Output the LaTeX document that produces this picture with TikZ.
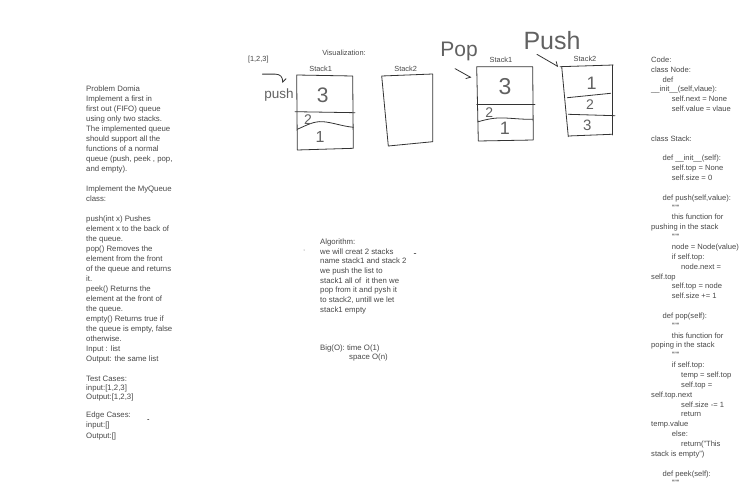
\documentclass[tikz,border=0pt]{standalone}
\usepackage{fontspec}
\setmainfont{Liberation Sans}
\usetikzlibrary{arrows.meta}
\newcommand\ind[1]{\hspace*{#1\dimexpr 9.3pt\relax}}
\begin{document}
\begin{tikzpicture}[x=1pt, y=-1pt, line join=round, line cap=round,
    txt/.style={anchor=north west, inner sep=0pt, align=left, text=black!72, font=\fontsize{7.8}{10}\selectfont},
    lbl/.style={inner sep=0pt, text=black!72, font=\fontsize{7.4}{9}\selectfont},
    hand/.style={inner sep=0pt, text=black!62},
    ink/.style={draw=black!80, line width=0.8pt},
    barb/.style={-{Straight Barb[#1,length=3.5pt,width=7pt]}}]
  \useasboundingbox (0,0) rectangle (748,487);
  % problem domain
  \node[txt] (problem) at (86,85.6) {Problem Domia\\Implement a first in\\first out (FIFO) queue\\using only two stacks.\\The implemented queue\\should support all the\\functions of a normal\\queue (push, peek , pop,\\and empty).\\[10pt]Implement the MyQueue\\class:\\[10pt]push(int x) Pushes\\element x to the back of\\the queue.\\pop() Removes the\\element from the front\\of the queue and returns\\it.\\peek() Returns the\\element at the front of\\the queue.\\empty() Returns true if\\the queue is empty, false\\otherwise.\\Input : list\\Output: the same list};
  \node[txt, font=\fontsize{7.8}{9.2}\selectfont] (tests) at (86,375.6) {Test Cases:\\input:[1,2,3]\\Output:[1,2,3]};
  \node[txt, font=\fontsize{7.8}{10.5}\selectfont] (edges) at (86,411.6) {Edge Cases:\\input:[]\\Output:[]};
  \draw[black!60, line width=0.4pt] (147.5,419.5) -- (149,419.5);
  % visualization
  \node[lbl] (vis) at (344,53) {Visualization:};
  \node[lbl] (list) at (258.3,60) {[1,2,3]};
  \node[lbl] (s1a) at (320.7,68.7) {Stack1};
  \node[lbl] (s2a) at (405.7,68.7) {Stack2};
  \draw[ink] (296.7,75) -- (352.7,76) -- (353.3,148.3) -- (297.3,150) -- cycle;
  \draw[ink] (295,111.7) -- (355,112.7);
  \draw[ink] (297.3,129.3) .. controls (307,125) and (314,121) .. (323,121.7) .. controls (333,122.5) and (341,126) .. (353.3,127.3);
  \node[hand, font=\fontsize{21}{21}\selectfont] (a3) at (322.7,95) {3};
  \node[hand, font=\fontsize{14}{14}\selectfont] (a2) at (308,119.3) {2};
  \node[hand, font=\fontsize{16}{16}\selectfont] (a1) at (320,137) {1};
  \draw[ink] (381.7,76) -- (432.7,74) -- (432.7,141.7) -- (388.3,146) -- cycle;
  \node[hand, font=\fontsize{13.5}{13.5}\selectfont] (push1) at (279,95) {push};
  \coordinate (pushin) at (282.7,83);
  \draw[ink, barb=left] ([shift={(4,10.5)}]list.south) -- ++(13,0) .. controls +(5,0) and +(0,-6) .. (pushin);
  % after pop and push
  \node[lbl] (s1b) at (501,60) {Stack1};
  \node[lbl] (s2b) at (585,59.3) {Stack2};
  \draw[ink] (476.7,66.7) -- (532.7,66.7) -- (533.3,140) -- (478.3,141) -- cycle;
  \draw[ink] (476.7,104) -- (535,104);
  \draw[ink] (478.3,121.7) .. controls (488,119) and (495,117.5) .. (505,118) .. controls (515,118.5) and (524,119.5) .. (532.7,119.3);
  \node[hand, font=\fontsize{23}{23}\selectfont] (b3) at (505,86.7) {3};
  \node[hand, font=\fontsize{14}{14}\selectfont] (b2) at (489.3,112.3) {2};
  \node[hand, font=\fontsize{18}{18}\selectfont] (b1) at (505,128.3) {1};
  \draw[ink] (560,66.7) -- (613.3,65);
  \draw[ink] (561.7,66.7) -- (568.3,136.7);
  \draw[ink] (612.3,65) -- (612.3,135);
  \draw[ink] (568.3,136) -- (611.7,134.3);
  \draw[ink] (567.3,97.7) -- (610.7,93.3);
  \draw[ink] (568.3,114.3) -- (615,115.7);
  \node[hand, font=\fontsize{18}{18}\selectfont] (c1) at (591.7,83.3) {1};
  \node[hand, font=\fontsize{14}{14}\selectfont] (c2) at (590,105) {2};
  \node[hand, font=\fontsize{15}{15}\selectfont] (c3) at (587.3,125) {3};
  \node[hand, font=\fontsize{21}{21}\selectfont] (pop) at (459,51) {Pop};
  \node[hand, font=\fontsize{25}{25}\selectfont] (push2) at (552,41) {Push};
  \coordinate (popin) at (471.3,77.7);
  \coordinate (pushto) at (558.3,66.7);
  \draw[ink, barb=right] ([shift={(-4,8)}]pop.south) -- (popin);
  \draw[ink, barb=left] ([shift={(-15,4)}]push2.south) -- (pushto);
  % algorithm
  \node[txt, font=\fontsize{7.8}{9.7}\selectfont] (algo) at (320,238.6) {Algorithm:\\we will creat 2 stacks\\name stack1 and stack 2\\we push the list to\\stack1 all of~ it then we\\pop from it and pysh it\\to stack2, untill we let\\stack1 empty};
  \fill[black!60] (304,250) circle (0.5);
  \draw[black!60, line width=0.4pt] (414,253) -- (416,253);
  \node[txt, font=\fontsize{7.8}{9.5}\selectfont] (bigo) at (320,344.6) {Big(O): time O(1)\\\hspace*{29pt}space O(n)};
  % code
  \node[txt, font=\fontsize{7.6}{9.85}\selectfont] (code) at (651,56.6) {Code:\\class Node:\\\ind1 def\\\_\_init\_\_(self,vlaue):\\\ind2 self.next = None\\\ind2 self.value = vlaue\\[19.7pt]class Stack:\\[9.85pt]\ind1 def \_\_init\_\_(self):\\\ind2 self.top = None\\\ind2 self.size = 0\\[9.85pt]\ind1 def push(self,value):\\\ind2 """\\\ind2 this function for\\pushing in the stack\\\ind2 """\\\ind2 node = Node(value)\\\ind2 if self.top:\\\ind3 node.next =\\self.top\\\ind2 self.top = node\\\ind2 self.size += 1\\[9.85pt]\ind1 def pop(self):\\\ind2 """\\\ind2 this function for\\poping in the stack\\\ind2 """\\\ind2 if self.top:\\\ind3 temp = self.top\\\ind3 self.top =\\self.top.next\\\ind3 self.size -= 1\\\ind3 return\\temp.value\\\ind2 else:\\\ind3 return("This\\stack is empty")\\[9.85pt]\ind1 def peek(self):\\\ind2 """};
\end{tikzpicture}
\end{document}
